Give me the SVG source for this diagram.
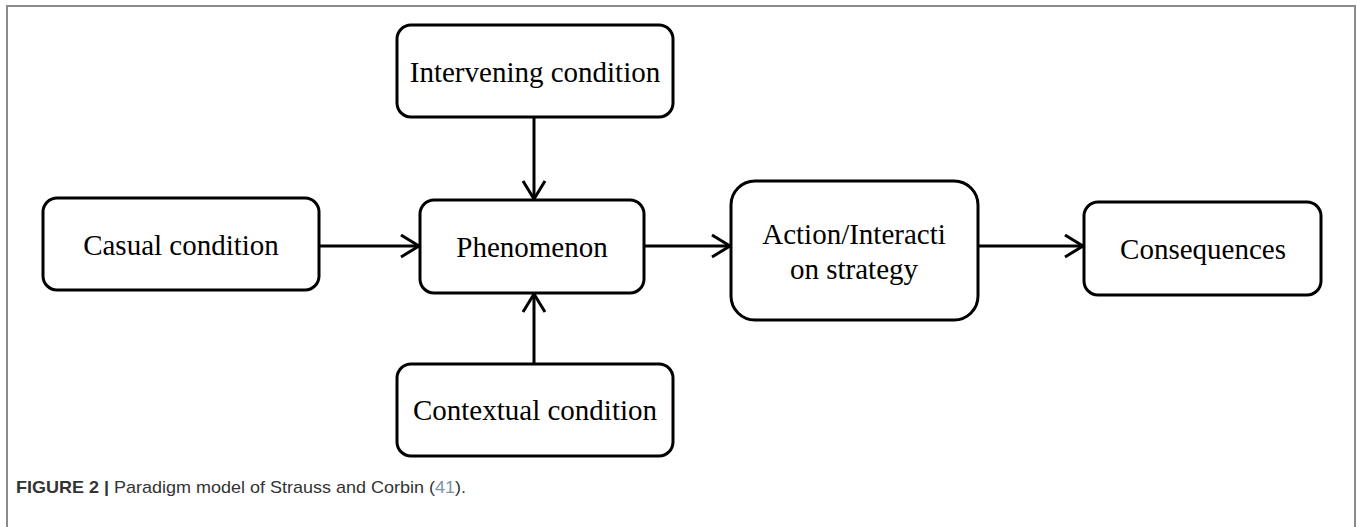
<svg xmlns="http://www.w3.org/2000/svg" width="1357" height="527" viewBox="0 0 1357 527">
<style>
.box{fill:#fff;stroke:#000;stroke-width:3}
.lbl{font-family:"Liberation Serif","Times New Roman",serif;font-size:29px;fill:#000;text-anchor:middle}
.conn{stroke:#000;stroke-width:3;fill:none}
.cap{font-family:"Liberation Sans",Arial,sans-serif;font-size:17px;fill:#333}
</style>
<defs>
<marker id="arr" viewBox="0 0 22 26" refX="20" refY="13" markerWidth="22" markerHeight="26" markerUnits="userSpaceOnUse" orient="auto">
<path d="M2,2 L20,13 L2,24" fill="none" stroke="#000" stroke-width="3" stroke-linejoin="miter"/>
</marker>
</defs>
<rect width="1357" height="527" fill="#fff"/>
<path d="M7,527 V6 H1355 V527" fill="none" stroke="#8c8c8c" stroke-width="2"/>
<g id="connectors">
<line class="conn" x1="534" y1="117" x2="534" y2="199" marker-end="url(#arr)"/>
<line class="conn" x1="534" y1="364" x2="534" y2="294" marker-end="url(#arr)"/>
<line class="conn" x1="319" y1="246" x2="419" y2="246" marker-end="url(#arr)"/>
<line class="conn" x1="644" y1="246" x2="730" y2="246" marker-end="url(#arr)"/>
<line class="conn" x1="978" y1="246" x2="1083" y2="246" marker-end="url(#arr)"/>
</g>
<g id="intervening">
<rect class="box" x="397" y="25" width="276" height="92" rx="14"/>
<text class="lbl" x="535" y="82">Intervening condition</text>
</g>
<g id="casual">
<rect class="box" x="43" y="198" width="276" height="92" rx="14"/>
<text class="lbl" x="181" y="255">Casual condition</text>
</g>
<g id="phenomenon">
<rect class="box" x="420" y="200" width="224" height="93" rx="14"/>
<text class="lbl" x="532" y="257">Phenomenon</text>
</g>
<g id="action">
<rect class="box" x="731" y="181" width="247" height="139" rx="24"/>
<text class="lbl" x="854" y="244">Action/Interacti</text>
<text class="lbl" x="854" y="279">on strategy</text>
</g>
<g id="consequences">
<rect class="box" x="1084" y="202" width="237" height="93" rx="14"/>
<text class="lbl" x="1203" y="259">Consequences</text>
</g>
<g id="contextual">
<rect class="box" x="397" y="364" width="276" height="92" rx="14"/>
<text class="lbl" x="535" y="420">Contextual condition</text>
</g>
<text class="cap" x="16" y="493" textLength="450" lengthAdjust="spacingAndGlyphs"><tspan font-weight="bold">FIGURE 2 |</tspan> Paradigm model of Strauss and Corbin (<tspan fill="#7d93a8">41</tspan>).</text>
</svg>
